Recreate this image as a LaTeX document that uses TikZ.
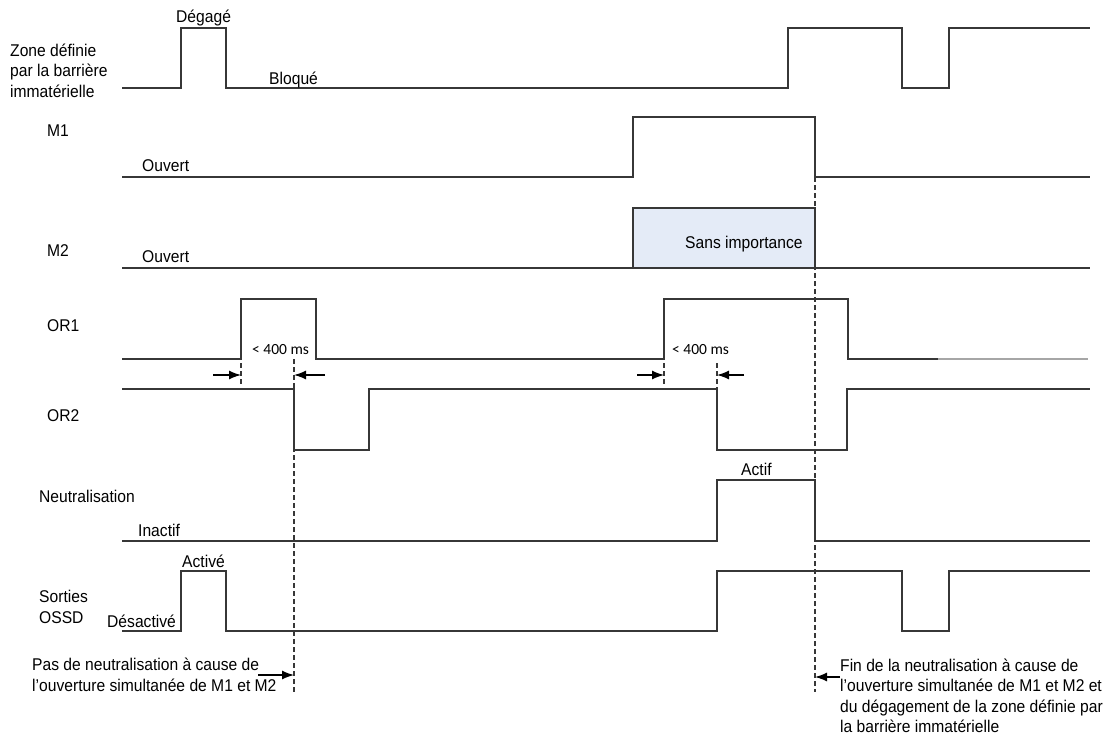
\documentclass[tikz,border=0pt]{standalone}
\usepackage{fontspec}
\setmainfont{Liberation Sans}[FakeStretch=0.92]
\newfontfamily\msfont{Carlito}
\usepackage{xcolor}
\usetikzlibrary{arrows.meta}
\definecolor{wavecol}{RGB}{55,55,55}
\definecolor{dontcare}{RGB}{228,235,247}
\newcommand{\lblsize}{\fontsize{17}{20.5}\selectfont}
\tikzset{
  wave/.style={draw=wavecol, line width=1.6pt, line join=miter},
  guide/.style={draw=wavecol, line width=1.3pt, dash pattern=on 5pt off 3pt},
  marker/.style={draw=black, line width=1.3pt, -{Latex[length=12pt,width=9pt]}},
  lbl/.style={anchor=base west, inner sep=0pt, font=\lblsize, text=black, align=left},
  ms/.style={anchor=base west, inner sep=0pt, font=\msfont\fontsize{15.5}{18}\selectfont}
}

\begin{document}
\begin{tikzpicture}[x=1pt, y=-1pt]
\useasboundingbox (0,0) rectangle (1107,744);

% signal names (multi-line nodes sit on their last baseline)
\node[lbl] (zone) at (10,97) {Zone définie\\par la barrière\\immatérielle};
\node[lbl] (m1) at (47,136) {M1};
\node[lbl] (m2) at (47,256) {M2};
\node[lbl] (or1) at (47,331) {OR1};
\node[lbl] (or2) at (47,421) {OR2};
\node[lbl] (neut) at (39,502) {Neutralisation};
\node[lbl] (ossd) at (39,623) {Sorties\\OSSD};

% zone
\draw[wave] (122,88) -- (181,88) -- (181,28) -- (226,28) -- (226,88) -- (788,88) -- (788,28) -- (902,28) -- (902,88) -- (949,88) -- (949,28) -- (1090,28);
\node[lbl] (degage) at (176,22) {Dégagé};
\node[lbl] (bloque) at (269,84) {Bloqué};

% M1 / M2
\draw[wave] (122,177) -- (633,177) -- (633,117) -- (815,117) -- (815,177) -- (1090,177);
\node[lbl] (m1ouv) at (142,171) {Ouvert};
\fill[dontcare] (633,208) rectangle (815,268);
\draw[wave] (633,268) -- (633,208) -- (815,208) -- (815,268);
\draw[wave] (122,268) -- (1090,268);
\node[lbl] (m2ouv) at (142,262) {Ouvert};
\node[lbl] (sans) at (685,248) {Sans importance};

% OR1 / OR2
\draw[wave] (122,359) -- (241,359) -- (241,299) -- (316,299) -- (316,359) -- (664,359) -- (664,299) -- (848,299) -- (848,359) -- (938,359);
\draw[wave, draw=gray!70] (938,359) -- (1088,359);
\draw[wave] (122,389) -- (294,389) -- (294,450) -- (369,450) -- (369,389) -- (717,389) -- (717,450) -- (847,450) -- (847,389) -- (1090,389);
\node[ms] (lim1) at (252,354) {< 400 ms};
\node[ms] (lim2) at (672,354) {< 400 ms};

% neutralisation / OSSD
\draw[wave] (122,541) -- (717,541) -- (717,480) -- (815,480) -- (815,541) -- (1090,541);
\node[lbl] (actif) at (741,475) {Actif};
\node[lbl] (inactif) at (138,536) {Inactif};
\draw[wave] (122,631) -- (181,631) -- (181,571) -- (226,571) -- (226,631) -- (717,631) -- (717,571) -- (902,571) -- (902,631) -- (949,631) -- (949,571) -- (1090,571);
\node[lbl] (active) at (182,567) {Activé};
\node[lbl] (desact) at (107,627) {Désactivé};

% guides
\coordinate (gA) at (241,375);
\coordinate (gB) at (294,375);
\coordinate (gC) at (664,375);
\coordinate (gD) at (717,375);
\coordinate (gE) at (294,675);
\coordinate (gF) at (815,677);
\draw[guide] (241,363) -- (241,384);
\draw[guide] (664,363) -- (664,384);
\draw[guide] (717,363) -- (717,389);
\draw[guide] (294,359) -- (294,692);
\draw[guide] (815,177) -- (815,692);
\draw[marker] (213,375) -- (gA);
\draw[marker] (325,375) -- (gB);
\draw[marker] (637,375) -- (gC);
\draw[marker] (744,375) -- (gD);
\draw[marker] (258,675) -- (gE);
\draw[marker] (840,677) -- (gF);

% notes
\node[lbl] (note1) at (32,691) {Pas de neutralisation à cause de\\l'ouverture simultanée de M1 et M2};
\node[lbl] (note2) at (840,732.5) {Fin de la neutralisation à cause de\\l'ouverture simultanée de M1 et M2 et\\du dégagement de la zone définie par\\la barrière immatérielle};
\end{tikzpicture}
\end{document}
